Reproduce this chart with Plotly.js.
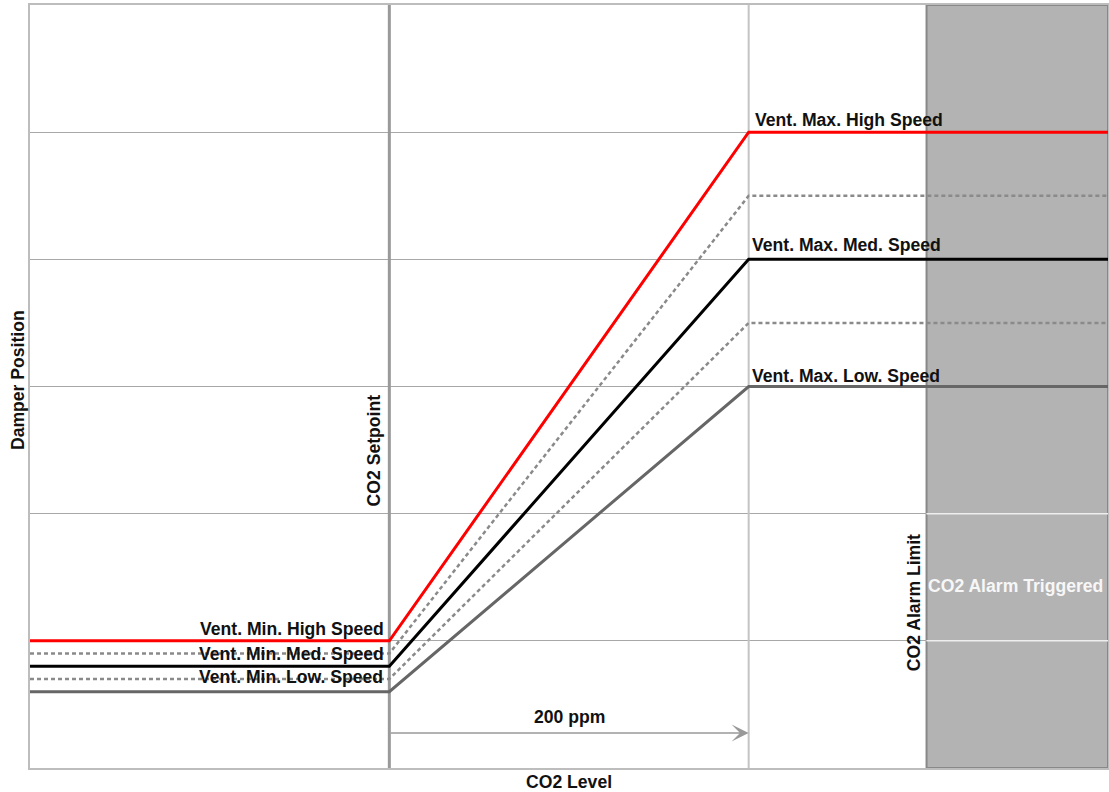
<!DOCTYPE html>
<html>
<head>
<meta charset="utf-8">
<script src="https://cdn.plot.ly/plotly-3.0.1.min.js"></script>
<style>html,body{margin:0;padding:0;background:#fff;}#chart{width:1109px;height:792px;}</style>
</head>
<body>
<div id="chart"></div>
<script>
// CO2 level (ppm) breakpoints
const co2 = [800, 1000, 1200, 1400];
const co2Setpoint = 1000;
const co2MaxPoint = 1200;
const co2AlarmLimit = 1299;
const co2Max = 1400;
const co2Min = 800;
// Damper positions (relative units)
const ventHigh = [1.0, 1.0, 5.0, 5.0];
const ventMedHigh = [0.9, 0.9, 4.5, 4.5];
const ventMed = [0.8, 0.8, 4.0, 4.0];
const ventLowMed = [0.7, 0.7, 3.5, 3.5];
const ventLow = [0.6, 0.6, 3.0, 3.0];
const yMax = 6;
const arrowLevel = 0.275;

const FONT = 'Liberation Sans, Arial, sans-serif';
const FS = 17.6;
const lbl = {family: FONT, size: FS, color: '#111', weight: 'bold'};

const traces = [
  {x: co2, y: ventLow, mode: 'lines', line: {color: '#666666', width: 3}},
  {x: co2, y: ventLowMed, mode: 'lines', line: {color: '#8a8a8a', width: 2.5, dash: '4px,3px'}},
  {x: co2, y: ventMed, mode: 'lines', line: {color: '#000000', width: 3}},
  {x: co2, y: ventMedHigh, mode: 'lines', line: {color: '#8a8a8a', width: 2.5, dash: '4px,3px'}},
  {x: co2, y: ventHigh, mode: 'lines', line: {color: '#ff0000', width: 3}}
];

const shapes = [
  {type: 'rect', xref: 'x', yref: 'y', x0: co2AlarmLimit, x1: co2Max, y0: 0, y1: yMax,
   fillcolor: '#b3b3b3', line: {color: '#888888', width: 2}, layer: 'below'},
  {type: 'line', xref: 'x', yref: 'y', x0: co2AlarmLimit, x1: co2Max, y0: 1, y1: 1,
   line: {color: '#eeeeee', width: 1.5}, layer: 'between'},
  {type: 'line', xref: 'x', yref: 'y', x0: co2AlarmLimit, x1: co2Max, y0: 2, y1: 2,
   line: {color: '#eeeeee', width: 1.5}, layer: 'between'},
  {type: 'line', xref: 'x', yref: 'y', x0: co2MaxPoint, x1: co2MaxPoint, y0: 0, y1: yMax,
   line: {color: '#c4c4c4', width: 2}, layer: 'between'},
  {type: 'line', xref: 'x', yref: 'y', x0: co2Setpoint, x1: co2Setpoint, y0: 0, y1: yMax,
   line: {color: '#999999', width: 3}, layer: 'between'}
];

const annotations = [
  {x: co2MaxPoint, y: ventHigh[2], xref: 'x', yref: 'y', text: 'Vent. Max. High Speed', showarrow: false,
   xanchor: 'left', yanchor: 'bottom', xshift: 4, yshift: 0, font: lbl},
  {x: co2MaxPoint, y: ventMed[2], xref: 'x', yref: 'y', text: 'Vent. Max. Med. Speed', showarrow: false,
   xanchor: 'left', yanchor: 'bottom', xshift: 1, yshift: 2, font: lbl},
  {x: co2MaxPoint, y: ventLow[2], xref: 'x', yref: 'y', text: 'Vent. Max. Low. Speed', showarrow: false,
   xanchor: 'left', yanchor: 'bottom', xshift: 1, yshift: -1, font: lbl},
  {x: co2Setpoint, y: ventHigh[0], xref: 'x', yref: 'y', text: 'Vent. Min. High Speed', showarrow: false,
   xanchor: 'right', yanchor: 'bottom', xshift: -3, yshift: 0, font: lbl},
  {x: co2Setpoint, y: ventMed[0], xref: 'x', yref: 'y', text: 'Vent. Min. Med. Speed', showarrow: false,
   xanchor: 'right', yanchor: 'bottom', xshift: -3, yshift: 0, font: lbl},
  {x: co2Setpoint, y: ventLow[0], xref: 'x', yref: 'y', text: 'Vent. Min. Low. Speed', showarrow: false,
   xanchor: 'right', yanchor: 'bottom', xshift: -4, yshift: 3, font: lbl},
  {x: co2Setpoint, y: 2.5, xref: 'x', yref: 'y', text: 'CO2 Setpoint', showarrow: false, textangle: -90,
   xanchor: 'center', yanchor: 'middle', xshift: -15, font: lbl},
  {x: co2AlarmLimit, y: 1.3, xref: 'x', yref: 'y', text: 'CO2 Alarm Limit', showarrow: false, textangle: -90,
   xanchor: 'center', yanchor: 'middle', xshift: -13, font: lbl},
  {x: (co2AlarmLimit + co2Max) / 2, y: 1.43, xref: 'x', yref: 'y', text: 'CO2 Alarm Triggered', showarrow: false,
   xanchor: 'center', yanchor: 'middle', xshift: -2, font: {family: FONT, size: FS, color: '#f7f7f7', weight: 'bold'}},
  {x: co2MaxPoint, y: arrowLevel, ax: co2Setpoint, ay: arrowLevel, xref: 'x', yref: 'y', axref: 'x', ayref: 'y',
   text: '', showarrow: true, arrowhead: 3, arrowsize: 1.9, arrowwidth: 1.5, arrowcolor: '#999999', standoff: 0},
  {x: (co2Setpoint + co2MaxPoint) / 2, y: 0.4, xref: 'x', yref: 'y', text: '200 ppm', showarrow: false,
   xanchor: 'center', yanchor: 'middle', font: lbl},
  {x: 0.5, y: -0.0185, xref: 'paper', yref: 'paper', text: 'CO2 Level', showarrow: false,
   xanchor: 'center', yanchor: 'middle', font: lbl},
  {x: -0.0111, y: 0.5085, xref: 'paper', yref: 'paper', text: 'Damper Position', showarrow: false, textangle: -90,
   xanchor: 'center', yanchor: 'middle', font: lbl}
];

const layout = {
  width: 1109, height: 792,
  margin: {l: 30, r: 1, t: 5, b: 24},
  paper_bgcolor: '#ffffff', plot_bgcolor: '#ffffff',
  showlegend: false, hovermode: false,
  xaxis: {range: [co2Min, co2Max], showgrid: false, zeroline: false, showticklabels: false, ticks: '',
          showline: true, mirror: true, linecolor: '#bdbdbd', linewidth: 2},
  yaxis: {range: [0, yMax], dtick: 1, showgrid: true, gridcolor: '#a8a8a8', gridwidth: 1, zeroline: false,
          showticklabels: false, ticks: '', showline: true, mirror: true, linecolor: '#bdbdbd', linewidth: 2},
  shapes: shapes,
  annotations: annotations
};

Plotly.newPlot('chart', traces, layout, {displayModeBar: false, staticPlot: true});
</script>
</body>
</html>
